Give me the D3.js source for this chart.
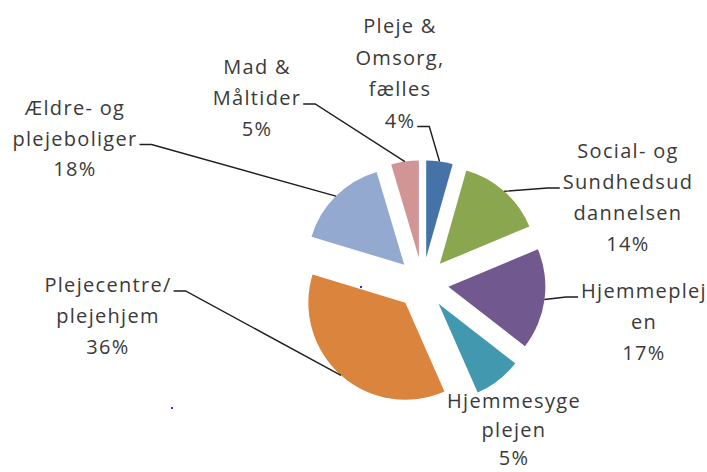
<!DOCTYPE html>
<html>
<head>
<meta charset="utf-8">
<script src="https://cdn.jsdelivr.net/npm/d3@7"></script>
<style>
  body { margin: 0; background: #fff; }
  text { font-family: "Open Sans", sans-serif; }
</style>
</head>
<body>
<svg id="chart" width="707" height="472"></svg>
<script>
// slice names, slice sizes as drawn, and the printed percentages
const categories = ["Pleje & Omsorg, fælles", "Social- og Sundhedsuddannelsen", "Hjemmeplejen",
  "Hjemmesygeplejen", "Plejecentre/ plejehjem", "Ældre- og plejeboliger", "Mad & Måltider"]
const shares = [4.4, 14.3, 16.8, 7.9, 36.3, 15.7, 4.6]
const pctLabels = ["4%", "14%", "17%", "5%", "36%", "18%", "5%"]
const labelLines = [
  ["Pleje &", "Omsorg,", "fælles"],
  ["Social- og", "Sundhedsud", "dannelsen"],
  ["Hjemmeplej", "en"],
  ["Hjemmesyge", "plejen"],
  ["Plejecentre/", "plejehjem"],
  ["Ældre- og", "plejeboliger"],
  ["Mad &", "Måltider"],
]
const colors = ["#4572a7", "#8aa64f", "#71588f", "#4198af", "#db843d", "#93a9cf", "#d09594"]

// label block placement (center x, first baseline, line pitch, line the leader attaches to, side)
const labelLayout = [
  { x: 400, y: 33, lh: 31.5, attach: 3, side: "right" },
  { x: 628, y: 158, lh: 31, attach: 1, side: "left" },
  { x: 644, y: 298, lh: 31, attach: 0, side: "left" },
  { x: 514, y: 408, lh: 28.5, attach: -1 },
  { x: 108, y: 292, lh: 31, attach: 0, side: "right" },
  { x: 75, y: 115, lh: 30.5, attach: 1, side: "right" },
  { x: 257, y: 74, lh: 31, attach: 1, side: "right" },
]

const cx = 422.6, cy = 283.3, radius = 97, explode = 26

const svg = d3.select('#chart')

const pie = d3.pie().sort(null).value(d => d)
const arcs = pie(shares)
const arc = d3.arc().innerRadius(0).outerRadius(radius)
const edgeArc = d3.arc().innerRadius(radius).outerRadius(radius)

function offset(a) {
  const mid = (a.startAngle + a.endAngle) / 2
  return [Math.sin(mid) * explode, -Math.cos(mid) * explode]
}

const g = svg.append('g').attr('transform', `translate(${cx},${cy})`)

g.selectAll('path.slice')
  .data(arcs)
  .enter()
  .append('path')
  .attr('class', 'slice')
  .attr('transform', d => `translate(${offset(d)})`)
  .attr('d', arc)
  .style('fill', (d, i) => colors[i])

// labels
const labels = svg.selectAll('g.label')
  .data(arcs)
  .enter()
  .append('g')
  .attr('class', 'label')

labels.each(function(d, i) {
  const lay = labelLayout[i]
  const lines = labelLines[i].concat([pctLabels[i]])
  const grp = d3.select(this)
  const texts = grp.selectAll('text')
    .data(lines)
    .enter()
    .append('text')
    .attr('x', lay.x)
    .attr('y', (t, k) => lay.y + k * lay.lh)
    .attr('text-anchor', 'middle')
    .style('font-size', '20px')
    .style('letter-spacing', '1.3px')
    .style('fill', '#3a3a3a')
    .text(t => t)

  if (lay.attach < 0) return
  const w = texts.nodes()[lay.attach].getComputedTextLength()
  const ay = lay.y + lay.attach * lay.lh - 1
  const ax = lay.side === "right" ? lay.x + w / 2 + 2 : lay.x - w / 2 - 3
  const ex = lay.side === "right" ? ax + 12 : ax - 12
  const c = edgeArc.centroid(d)
  const o = offset(d)
  const px = cx + c[0] + o[0], py = cy + c[1] + o[1]

  grp.append('path')
    .attr('d', d3.line()([[ax, ay], [ex, ay], [px, py]]))
    .style('fill', 'none')
    .style('stroke', '#1e1e1e')
    .style('stroke-width', 1.4)
})

// two stray blue marks present in the original picture
const marks = [[361, 287], [172, 408]]
svg.selectAll('rect.mark')
  .data(marks)
  .enter()
  .append('rect')
  .attr('class', 'mark')
  .attr('x', d => d[0] - 1)
  .attr('y', d => d[1] - 1)
  .attr('width', 2)
  .attr('height', 2)
  .style('fill', '#2030ff')
</script>
</body>
</html>
